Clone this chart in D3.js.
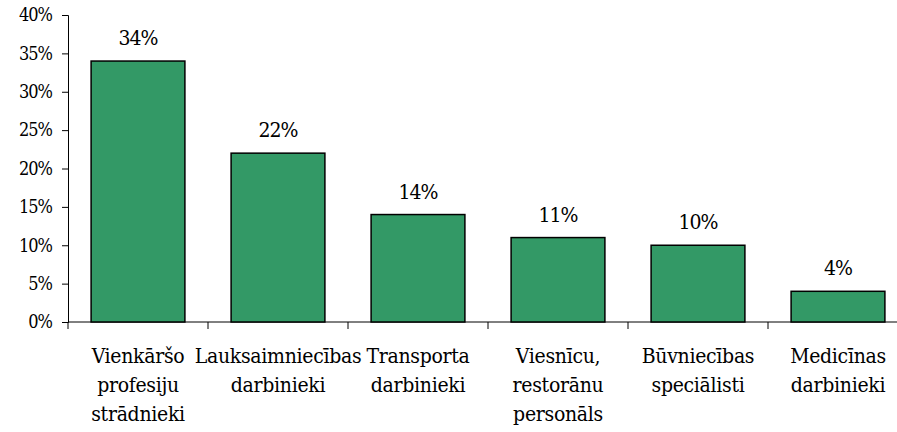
<!DOCTYPE html>
<html>
<head>
<meta charset="utf-8">
<script src="https://cdn.jsdelivr.net/npm/d3@7"></script>
<style>
  body { margin: 0; background: #fff; }
</style>
</head>
<body>
<svg class="js-graph"></svg>
<script>
// categories (lines of each label) and values in percent
var categories = [
  ['Vienkāršo', 'profesiju', 'strādnieki'],
  ['Lauksaimniecības', 'darbinieki'],
  ['Transporta', 'darbinieki'],
  ['Viesnīcu,', 'restorānu', 'personāls'],
  ['Būvniecības', 'speciālisti'],
  ['Medicīnas', 'darbinieki']
];
var values = [34, 22, 14, 11, 10, 4];
var yTicks = [0, 5, 10, 15, 20, 25, 30, 35, 40];

(function drawChart(d3) {
  var width = 897;
  var height = 432;
  var margin = { top: 15, left: 68 };
  var plotHeight = 307;
  var step = 140;
  var serif = 'DejaVu Serif Condensed';

  var svg = d3.select('.js-graph')
    .attr('width', width)
    .attr('height', height);

  var ids = categories.map(function (c, i) { return i; });

  var xScale = d3.scaleBand()
    .domain(ids)
    .range([margin.left, margin.left + step * ids.length])
    .paddingInner(0.33)
    .paddingOuter(0.165);

  var yScale = d3.scaleLinear()
    .domain([0, 40])
    .range([margin.top + plotHeight, margin.top]);

  // Y AXIS
  var yAxis = svg.append('g')
    .attr('transform', 'translate(' + margin.left + ',0)')
    .call(d3.axisLeft(yScale)
      .tickValues(yTicks)
      .tickSize(6)
      .tickPadding(10)
      .tickFormat(function (d) { return d + '%'; }));
  yAxis.attr('font-family', serif).attr('font-size', 18);
  yAxis.select('.domain').attr('stroke', '#000').attr('stroke-width', 1);
  yAxis.selectAll('.tick line').attr('stroke', '#000');
  yAxis.selectAll('.tick text')
    .attr('letter-spacing', '-1px')
    .attr('fill', '#000');

  // X AXIS line and separator ticks
  var baseY = yScale(0);
  svg.append('line')
    .attr('x1', margin.left).attr('x2', width)
    .attr('y1', baseY).attr('y2', baseY)
    .attr('stroke', '#000');
  var sepTicks = d3.range(ids.length).map(function (i) { return margin.left + i * step; });
  svg.selectAll('line.sep')
    .data(sepTicks)
    .enter().append('line')
    .attr('class', 'sep')
    .attr('x1', function (d) { return d; })
    .attr('x2', function (d) { return d; })
    .attr('y1', baseY)
    .attr('y2', baseY + 7)
    .attr('stroke', '#000');

  // BARS
  svg.selectAll('rect.bar')
    .data(values)
    .enter().append('rect')
    .attr('class', 'bar')
    .attr('x', function (d, i) { return xScale(i); })
    .attr('width', xScale.bandwidth())
    .attr('y', function (d) { return yScale(d); })
    .attr('height', function (d) { return baseY - yScale(d); })
    .attr('fill', '#339966')
    .attr('stroke', '#000')
    .attr('stroke-width', 1.5);

  // VALUE LABELS
  svg.selectAll('text.val')
    .data(values)
    .enter().append('text')
    .attr('class', 'val')
    .attr('x', function (d, i) { return xScale(i) + xScale.bandwidth() / 2; })
    .attr('y', function (d) { return yScale(d) - 16; })
    .attr('text-anchor', 'middle')
    .attr('font-family', serif)
    .attr('font-size', 21)
    .attr('letter-spacing', '-1px')
    .text(function (d) { return d + '%'; });

  // CATEGORY LABELS
  var catGroups = svg.selectAll('text.cat')
    .data(categories)
    .enter().append('text')
    .attr('class', 'cat')
    .attr('text-anchor', 'middle')
    .attr('font-family', serif)
    .attr('font-size', 21)
    .attr('letter-spacing', '-0.3px')
    .attr('transform', function (d, i) {
      return 'translate(' + (xScale(i) + xScale.bandwidth() / 2) + ',' + (baseY + 41) + ')';
    });
  catGroups.selectAll('tspan')
    .data(function (d) { return d; })
    .enter().append('tspan')
    .attr('x', 0)
    .attr('y', function (d, i) { return i * 29; })
    .text(function (d) { return d; });
}(d3));
</script>
</body>
</html>
